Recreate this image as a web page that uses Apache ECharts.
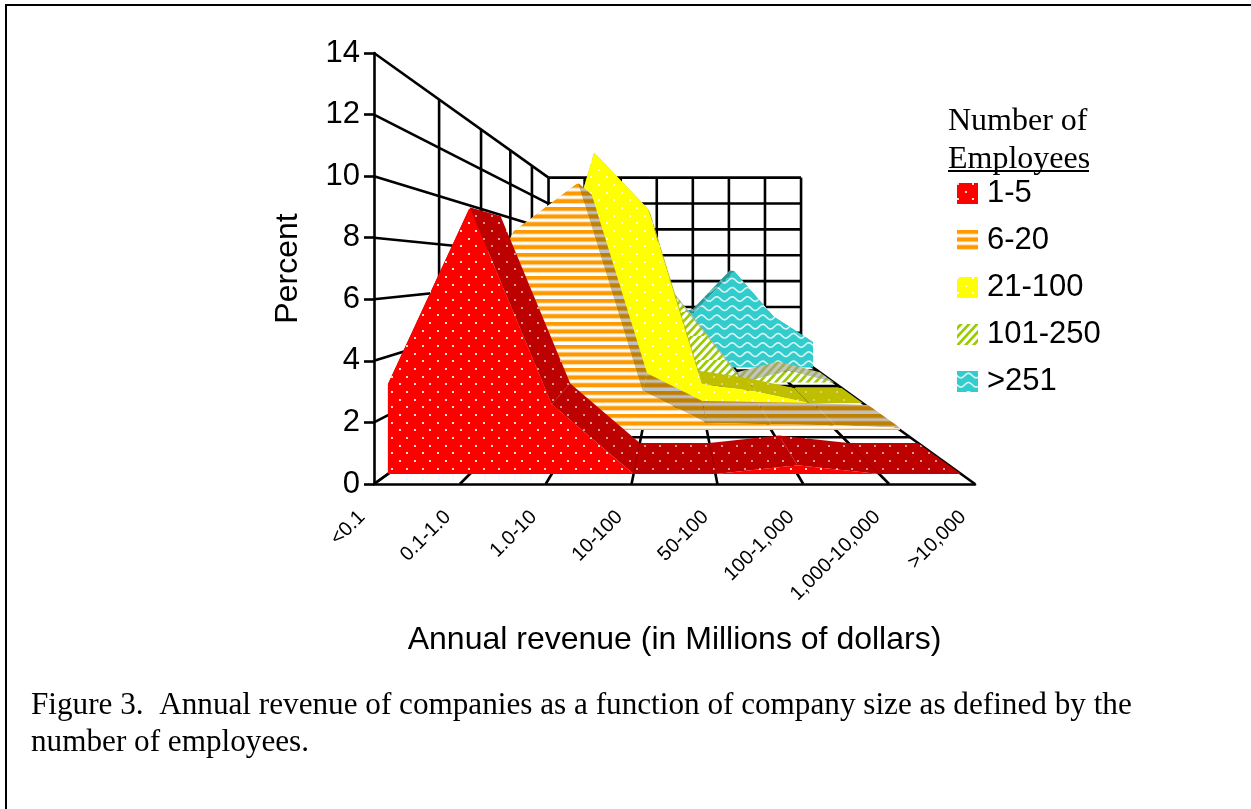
<!DOCTYPE html>
<html><head><meta charset="utf-8">
<style>html,body{margin:0;padding:0;background:#fff}#c{width:1251px;height:809px}</style>
<script src="https://cdn.jsdelivr.net/npm/echarts@6/dist/echarts.min.js"></script>
</head><body><div id="c"></div>
<script>
const categories = ['<0.1','0.1-1.0','1.0-10','10-100','50-100','100-1,000','1,000-10,000','>10,000'];
const yTicks = [0,2,4,6,8,10,12,14];
const seriesNames = ['1-5','6-20','21-100','101-250','>251'];
const v1to5 = [3.06,9.08,2.38,0,0,0.3,0,0];
const v6to20 = [3,8.6,10.7,1.7,0.3,0.25,0.2,0.1];
const v21to100 = [1,3.6,13,10.1,1,0.6,0,0];
const v101to250 = [1,2.5,5,7,3.55,0,0.72,0];
const v251plus = [0.5,1,2,3,3.9,6.8,3.6,1.8];
const allValues = [v1to5,v6to20,v21to100,v101to250,v251plus];

// perspective used by the 3D look
const VP = [675,268], DEPTH_STEP = 0.276, DEPTH_ROWS = 5;
const ribbonDepth = [[0.175,0.85],[1.208,2.01],[2.174,2.9],[3.21,3.88],[4.25,4.9]];
function proj(api,cat,val,k){
  const c = api.coord([cat,val]);
  const s = 1/(1+DEPTH_STEP*k);
  return [VP[0]+(c[0]-VP[0])*s, VP[1]+(c[1]-VP[1])*s];
}
function tile(w,h,draw){
  const c=document.createElement('canvas');c.width=w;c.height=h;
  draw(c.getContext('2d'),w,h);
  return {image:c,repeat:'repeat'};
}
function dots(bg,dot){return tile(46,46,(g,w,h)=>{
  g.fillStyle=bg;g.fillRect(0,0,w,h);g.fillStyle=dot;
  for(let r=0;r<6;r++)for(let c=0;c<3;c++){
    const x=Math.round(c*46/3+(r%2?23/3:0))%46,y=Math.round(r*23/3);
    g.fillRect(x,y,2,2);
  }
});}
function stripes(a,b,soft){return tile(8,23,(g,w,h)=>{
  g.fillStyle=b;g.fillRect(0,0,w,h);
  for(let r=0;r<3;r++){
    g.fillStyle=soft;g.fillRect(0,r*23/3-1,w,5.6);
    g.fillStyle=a;g.fillRect(0,r*23/3,w,3.6);
  }
});}
function hatch(bg,fg){return tile(24,24,(g,w,h)=>{
  g.fillStyle=bg;g.fillRect(0,0,w,h);g.strokeStyle=fg;g.lineWidth=3.2;
  for(let i=-24;i<=48;i+=8){g.beginPath();g.moveTo(i,h+2);g.lineTo(i+26,-2);g.stroke();}
});}
function wave(bg,fg){return tile(46,46,(g,w,h)=>{
  g.fillStyle=bg;g.fillRect(0,0,w,h);g.strokeStyle=fg;g.lineWidth=1.6;
  for(let r=0;r<5;r++){
    const y=r*46/5+4.6;
    g.beginPath();
    for(let x=-2;x<=48;x++){
      const t=x/(46/3)*2*Math.PI;
      const yy=y+2.3*Math.sin(t);
      x===-2?g.moveTo(x,yy):g.lineTo(x,yy);
    }
    g.stroke();
  }
});}
const faceFill=[dots('#ff0000','#ffd8d8'),stripes('#ff9900','#ffffff','#ffd9a0'),dots('#ffff00','#ffffe0'),hatch('#99cc00','#ffffff'),wave('#33cccc','#d8f4f4')];
const topFill=[dots('#bd0000','#d89a9a'),stripes('#bf7f00','#c0c0c0','#c4a060'),dots('#bfbf00','#d4d480'),hatch('#a0b050','#c4c4c0'),wave('#279c9c','#80c0c0')];

const areaSeries = seriesNames.map((name,n)=>{
  const vals=allValues[n],[kf,kb]=ribbonDepth[n];
  return {
    name,type:'custom',coordinateSystem:'cartesian2d',z:20-n*2,silent:true,animation:false,
    itemStyle:{color:faceFill[n]},
    encode:{x:0,y:1},
    data:vals.map((v,i)=>[categories[i],v]),
    renderItem(params,api){
      const i=params.dataIndex,children=[];
      if(i<vals.length-1){
        children.push({type:'polygon',z2:1,silent:true,
          shape:{points:[proj(api,i,vals[i],kf),proj(api,i+1,vals[i+1],kf),proj(api,i+1,vals[i+1],kb),proj(api,i,vals[i],kb)]},
          style:{fill:topFill[n]}});
      }
      if(i===0){
        const pts=vals.map((v,j)=>proj(api,j,v,kf));
        pts.push(proj(api,vals.length-1,0,kf),proj(api,0,0,kf));
        children.push({type:'polygon',z2:5,silent:true,shape:{points:pts},style:{fill:faceFill[n]}});
      }
      return {type:'group',children};
    }
  };
});
const ln=(a,b)=>({type:'line',silent:true,shape:{x1:a[0],y1:a[1],x2:b[0],y2:b[1]},style:{stroke:'#000',lineWidth:2.6}});
const wallSeries={
  type:'custom',coordinateSystem:'cartesian2d',z:1,silent:true,animation:false,
  data:[[categories[0],0]],encode:{x:0,y:1},
  renderItem(params,api){
    const last=categories.length-1,top=yTicks[yTicks.length-1],ch=[];
    yTicks.forEach(v=>{
      ch.push(ln(proj(api,0,v,0),proj(api,0,v,DEPTH_ROWS)));
      ch.push(ln(proj(api,0,v,DEPTH_ROWS),proj(api,last,v,DEPTH_ROWS)));
    });
    categories.forEach((c,i)=>{
      ch.push(ln(proj(api,i,0,0),proj(api,i,0,DEPTH_ROWS)));
      ch.push(ln(proj(api,i,0,DEPTH_ROWS),proj(api,i,top,DEPTH_ROWS)));
    });
    for(let k=1;k<DEPTH_ROWS;k++){
      ch.push(ln(proj(api,0,0,k),proj(api,last,0,k)));
      ch.push(ln(proj(api,0,0,k),proj(api,0,top,k)));
    }
    return {type:'group',children:ch};
  }
};
const SANS="'Liberation Sans',Arial,sans-serif",SERIF="'Liberation Serif','Times New Roman',serif";
const chart=echarts.init(document.getElementById('c'),null,{renderer:'canvas',width:1251,height:809});
chart.setOption({
  animation:false,backgroundColor:'#fff',
  grid:{left:374,top:53,width:601,height:431,containLabel:false},
  xAxis:{type:'category',data:categories,boundaryGap:false,
    name:'Annual revenue (in Millions of dollars)',nameLocation:'center',nameGap:140,
    nameTextStyle:{fontFamily:SANS,fontSize:32,color:'#000'},
    axisLine:{show:true,lineStyle:{color:'#000',width:2.6}},axisTick:{show:false},splitLine:{show:false},
    axisLabel:{interval:0,rotate:45,margin:18,padding:[0,17,0,0],color:'#000',fontFamily:SANS,fontSize:20}},
  yAxis:{type:'value',min:0,max:14,interval:2,
    name:'Percent',nameLocation:'center',nameGap:70,
    nameTextStyle:{fontFamily:SANS,fontSize:32,color:'#000'},
    axisLine:{show:true,lineStyle:{color:'#000',width:2.6}},
    axisTick:{show:true,length:10,lineStyle:{color:'#000',width:2.6}},splitLine:{show:false},
    axisLabel:{margin:14,padding:[4,0,0,0],color:'#000',fontFamily:SANS,fontSize:31}},
  legend:{orient:'vertical',left:952,top:173,itemWidth:21,itemHeight:21,itemGap:16,selectedMode:false,
    icon:'rect',data:seriesNames,
    textStyle:{fontFamily:SANS,fontSize:31,color:'#000',padding:[0,0,0,4]}},
  graphic:[
    {type:'polyline',silent:true,shape:{points:[[6,809],[6,5],[1251,5]]},style:{fill:'none',stroke:'#000',lineWidth:2}},
    {type:'text',silent:true,left:948,top:103,style:{text:'Number of\nEmployees',font:'32px '+SERIF,lineHeight:38,fill:'#000'}},
    {type:'line',silent:true,shape:{x1:948,y1:171,x2:1089,y2:171},style:{stroke:'#000',lineWidth:2}},
    {type:'text',silent:true,left:31,top:687,style:{text:'Figure 3.  Annual revenue of companies as a function of company size as defined by the\nnumber of employees.',font:'31.2px '+SERIF,lineHeight:37,fill:'#000'}}
  ],
  series:[wallSeries,...areaSeries]
});
</script></body></html>
